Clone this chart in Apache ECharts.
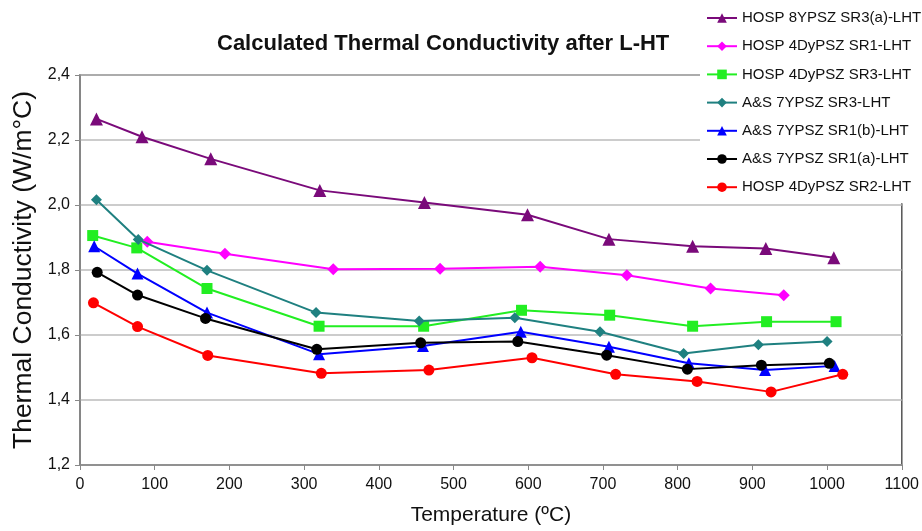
<!DOCTYPE html>
<html>
<head>
<meta charset="utf-8">
<script src="https://cdn.jsdelivr.net/npm/echarts@6/dist/echarts.min.js"></script>
<style>
html,body{margin:0;padding:0;background:#fff;}
#c{width:922px;height:531px;}
</style>
</head>
<body>
<div id="c"></div>
<script>
const seriesNames = [
  'HOSP 8YPSZ SR3(a)-LHT',
  'HOSP 4DyPSZ SR1-LHT',
  'HOSP 4DyPSZ SR3-LHT',
  'A&S 7YPSZ SR3-LHT',
  'A&S 7YPSZ SR1(b)-LHT',
  'A&S 7YPSZ SR1(a)-LHT',
  'HOSP 4DyPSZ SR2-LHT'
];
const purpleT = [22, 83, 175, 321, 461, 599, 708, 820, 918, 1009];
const purpleK = [2.265, 2.21, 2.142, 2.045, 2.008, 1.97, 1.895, 1.873, 1.866, 1.838];
const magentaT = [90, 194, 339, 482, 616, 732, 844, 942];
const magentaK = [1.887, 1.85, 1.802, 1.804, 1.81, 1.784, 1.743, 1.722];
const greenT = [17, 76, 170, 320, 460, 591, 709, 820, 919, 1012];
const greenK = [1.906, 1.868, 1.743, 1.627, 1.627, 1.676, 1.661, 1.627, 1.641, 1.641];
const tealT = [22, 78, 170, 316, 454, 582, 696, 808, 908, 1000];
const tealK = [2.016, 1.894, 1.799, 1.669, 1.643, 1.653, 1.61, 1.543, 1.57, 1.58];
const blueT = [19, 77, 170, 320, 459, 590, 708, 815, 917, 1010];
const blueK = [1.873, 1.789, 1.669, 1.541, 1.566, 1.61, 1.564, 1.513, 1.492, 1.505];
const blackT = [23, 77, 168, 317, 456, 586, 705, 813, 912, 1003];
const blackK = [1.793, 1.723, 1.651, 1.556, 1.576, 1.58, 1.538, 1.495, 1.507, 1.513];
const redT = [18, 77, 171, 323, 467, 605, 717, 826, 925, 1021];
const redK = [1.699, 1.626, 1.537, 1.482, 1.492, 1.53, 1.479, 1.457, 1.425, 1.479];

const yTickLabels = ['1,2', '1,4', '1,6', '1,8', '2,0', '2,2', '2,4'];
const xTickLabels = ['0','100','200','300','400','500','600','700','800','900','1000','1100'];

const titleText = 'Calculated Thermal Conductivity after L-HT';
const xName = 'Temperature (ºC)';
const yName = 'Thermal Conductivity (W/m°C)';

function pairs(t, k) { return t.map((v, i) => [v, k[i]]); }

const styles = [
  {color: '#7a0a7a', symbol: 'triangle', size: 13},
  {color: '#ff00ff', symbol: 'diamond', size: 12},
  {color: '#22ee22', symbol: 'rect', size: 11},
  {color: '#1f8080', symbol: 'diamond', size: 11},
  {color: '#0000ff', symbol: 'triangle', size: 12},
  {color: '#000000', symbol: 'circle', size: 11},
  {color: '#ff0000', symbol: 'circle', size: 11}
];
const dataSets = [
  pairs(purpleT, purpleK), pairs(magentaT, magentaK), pairs(greenT, greenK),
  pairs(tealT, tealK), pairs(blueT, blueK), pairs(blackT, blackK), pairs(redT, redK)
];

const chart = echarts.init(document.getElementById('c'));
chart.setOption({
  animation: false,
  backgroundColor: '#fff',
  title: {
    text: titleText, left: 217, top: 33, padding: 0,
    textStyle: {fontFamily: 'Liberation Sans, Arial, sans-serif', fontSize: 22, fontWeight: 'bold', color: '#111'}
  },
  legend: {
    orient: 'vertical', left: 700, top: 0,
    padding: [8, 6, 6, 6],
    backgroundColor: '#fff',
    itemWidth: 30, itemHeight: 12, itemGap: 8.2,
    data: seriesNames,
    textStyle: {fontFamily: 'Liberation Sans, Arial, sans-serif', fontSize: 15, color: '#111', lineHeight: 20}
  },
  grid: {left: 80, right: 16, top: 75, bottom: 65, show: true, borderColor: '#555', borderWidth: 1.5, backgroundColor: 'transparent'},
  xAxis: {
    type: 'value', min: 0, max: 1100, interval: 100,
    name: xName, nameLocation: 'middle', nameGap: 40,
    nameTextStyle: {fontFamily: 'Liberation Sans, Arial, sans-serif', fontSize: 21, color: '#111'},
    axisLine: {lineStyle: {color: '#888', width: 1.5}},
    axisTick: {show: true, length: 5, lineStyle: {color: '#888'}},
    axisLabel: {margin: 12, fontFamily: 'Liberation Sans, Arial, sans-serif', fontSize: 16, color: '#111',
      formatter: (v) => xTickLabels[Math.round(v / 100)]},
    splitLine: {show: false}
  },
  yAxis: {
    type: 'value', min: 1.2, max: 2.4, interval: 0.2,
    name: yName, nameLocation: 'middle', nameGap: 40, nameRotate: 90,
    nameTextStyle: {fontFamily: 'Liberation Sans, Arial, sans-serif', fontSize: 26.5, color: '#111'},
    axisLine: {show: true, lineStyle: {color: '#888', width: 1.5}},
    axisTick: {show: true, length: 5, lineStyle: {color: '#888'}},
    axisLabel: {margin: 10, fontFamily: 'Liberation Sans, Arial, sans-serif', fontSize: 16, color: '#111',
      formatter: (v) => yTickLabels[Math.round((v - 1.2) / 0.2)]},
    splitLine: {show: true, lineStyle: {color: '#bbb', width: 1.5}}
  },
  series: seriesNames.map((n, i) => ({
    name: n, type: 'line', data: dataSets[i],
    symbol: styles[i].symbol, symbolSize: styles[i].size,
    itemStyle: {color: styles[i].color},
    lineStyle: {color: styles[i].color, width: 2},
    z: 2 + i
  }))
});
</script>
</body>
</html>
